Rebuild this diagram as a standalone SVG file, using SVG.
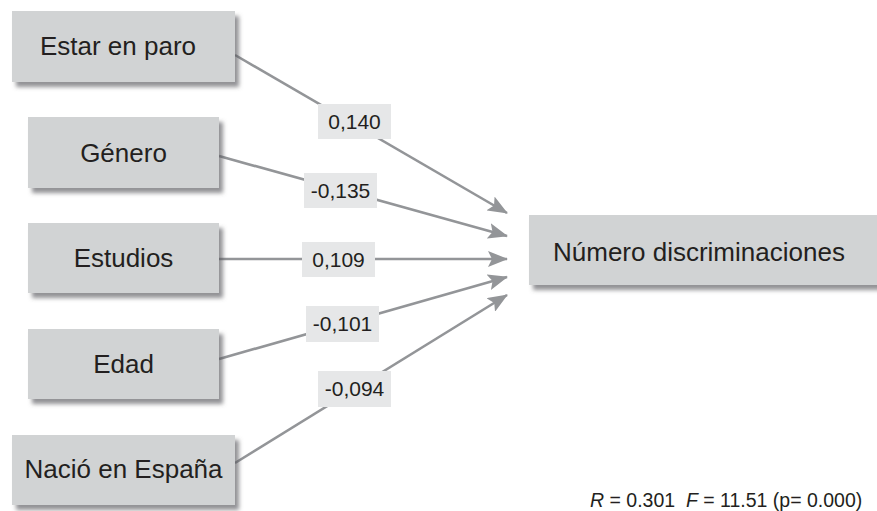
<svg xmlns="http://www.w3.org/2000/svg" width="877" height="511" viewBox="0 0 877 511">
<style>
.box{fill:#d1d3d4;filter:url(#sh);}
.nt{font-family:"Liberation Sans",Arial,sans-serif;font-size:26px;fill:#231f20;}
.lb{fill:#e6e7e8;}
.lt{font-family:"Liberation Sans",Arial,sans-serif;font-size:21px;fill:#231f20;text-anchor:middle;}
.ln{stroke:#939598;stroke-width:2.6;fill:none;marker-end:url(#ah);}
.ft{font-family:"Liberation Sans",Arial,sans-serif;font-size:19.5px;fill:#231f20;}
</style>
<defs>
<filter id="sh" x="-10%" y="-20%" width="130%" height="150%">
<feDropShadow dx="4" dy="5" stdDeviation="2.2" flood-color="#58595b" flood-opacity="0.65"/>
</filter>
<marker id="ah" markerUnits="userSpaceOnUse" markerWidth="20" markerHeight="16" viewBox="0 0 20 16" refX="19" refY="8" orient="auto">
<path d="M0,0 L20,8 L0,16 L4,8 z" fill="#939598"/>
</marker>
</defs>
<rect width="877" height="511" fill="#ffffff"/>
<g id="connectors">
<line class="ln" x1="235" y1="55" x2="507" y2="213"/>
<line class="ln" x1="219" y1="156" x2="507" y2="236"/>
<line class="ln" x1="219" y1="259" x2="507" y2="259"/>
<line class="ln" x1="219" y1="359" x2="507" y2="277"/>
<line class="ln" x1="235" y1="463" x2="507" y2="295"/>
<g id="label-0140"><rect class="lb" x="318" y="104" width="73" height="35"/><text class="lt" x="354.5" y="129">0,140</text></g>
<g id="label-0135"><rect class="lb" x="304" y="173" width="73" height="35"/><text class="lt" x="340.5" y="198">-0,135</text></g>
<g id="label-0109"><rect class="lb" x="302" y="242" width="73" height="35"/><text class="lt" x="338.5" y="267">0,109</text></g>
<g id="label-0101"><rect class="lb" x="306" y="306" width="73" height="36"/><text class="lt" x="342.5" y="331">-0,101</text></g>
<g id="label-0094"><rect class="lb" x="318" y="371" width="73" height="36"/><text class="lt" x="354.5" y="396">-0,094</text></g>
</g>
<g id="node-paro"><rect class="box" x="12" y="11" width="223" height="71"/><text class="nt" x="118" y="55" text-anchor="middle">Estar en paro</text></g>
<g id="node-genero"><rect class="box" x="28" y="117" width="191" height="71"/><text class="nt" x="123.5" y="162" text-anchor="middle">Género</text></g>
<g id="node-estudios"><rect class="box" x="28" y="223" width="191" height="70"/><text class="nt" x="123.5" y="267" text-anchor="middle">Estudios</text></g>
<g id="node-edad"><rect class="box" x="28" y="329" width="191" height="70"/><text class="nt" x="123.5" y="373" text-anchor="middle">Edad</text></g>
<g id="node-nacio"><rect class="box" x="12" y="435" width="223" height="70"/><text class="nt" x="123.5" y="478" text-anchor="middle">Nació en España</text></g>
<g id="node-numero"><rect class="box" x="529" y="215" width="350" height="70"/><text class="nt" x="553" y="261">Número discriminaciones</text></g>
<text class="ft" x="590" y="507" xml:space="preserve"><tspan font-style="italic">R</tspan> = 0.301  <tspan font-style="italic">F</tspan> = 11.51 (p= 0.000)</text>
</svg>
